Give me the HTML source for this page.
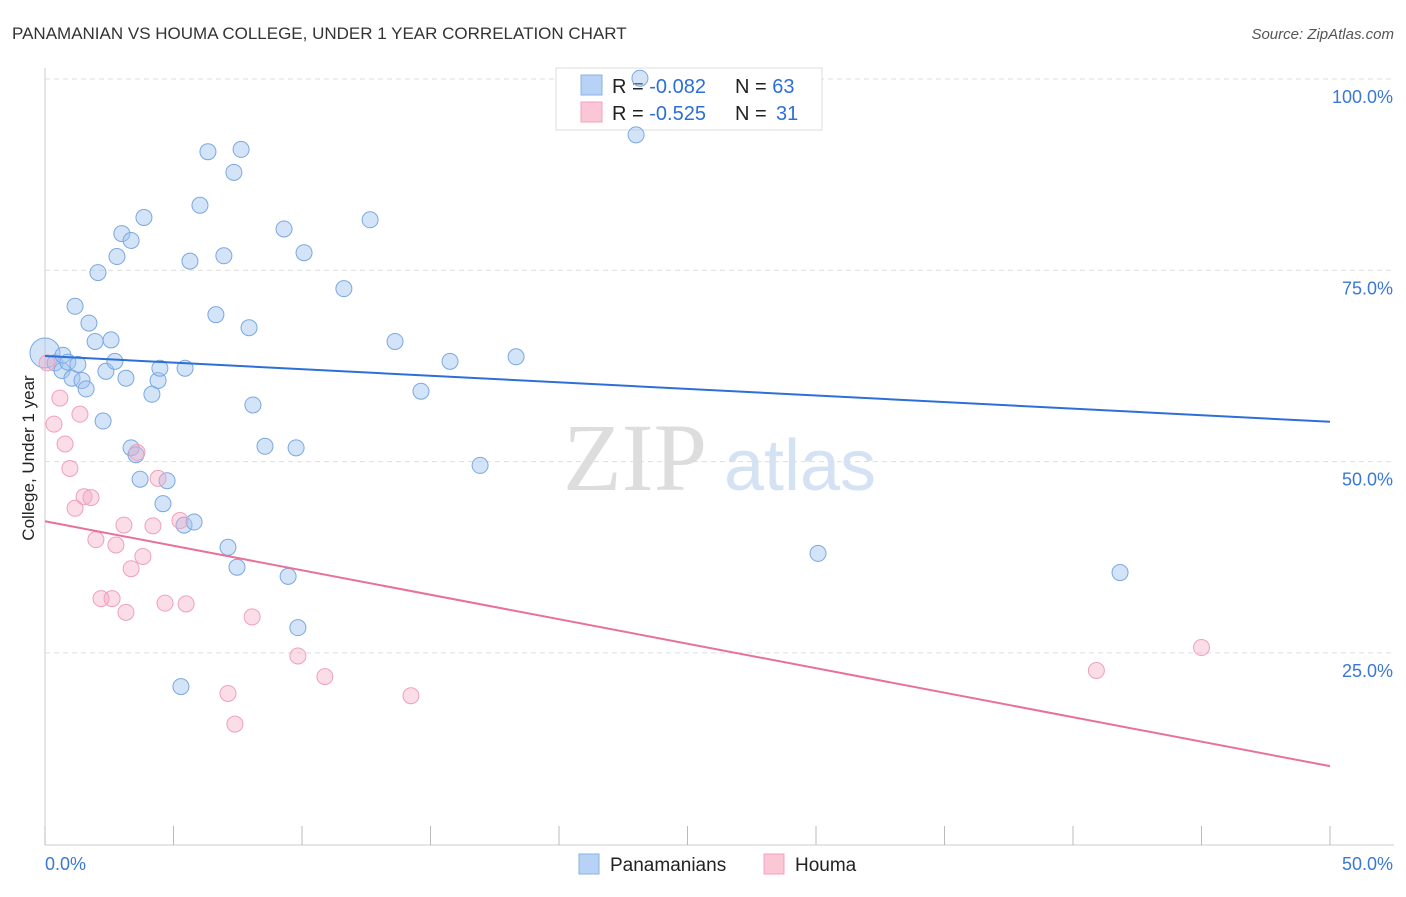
<!DOCTYPE html>
<html><head><meta charset="utf-8"><style>
body{margin:0;background:#fff;font-family:"Liberation Sans",sans-serif}
</style></head><body>
<svg id="c" width="1406" height="892" xmlns="http://www.w3.org/2000/svg" style="font-family:'Liberation Sans',sans-serif">
<text x="12" y="39" font-size="17" fill="#333">PANAMANIAN VS HOUMA COLLEGE, UNDER 1 YEAR CORRELATION CHART</text>
<text x="1394" y="39" font-size="15" fill="#555" font-style="italic" text-anchor="end">Source: ZipAtlas.com</text>
<text x="635" y="490" font-size="96" fill="#ddd" font-family="Liberation Serif,serif" text-anchor="middle">ZIP</text>
<text x="800" y="490" font-size="72" fill="#d4e2f4" text-anchor="middle">atlas</text>
<text transform="translate(34,458) rotate(-90)" font-size="17" fill="#222" text-anchor="middle">College, Under 1 year</text>
<g id="grid"></g>
<g>
<rect x="556" y="68" width="266" height="62" fill="#fff" stroke="#ddd"/>
<rect x="581" y="75" width="21" height="20" fill="#b7d2f5" stroke="#8ab2e6"/>
<rect x="581" y="102" width="21" height="20" fill="#fbc6d6" stroke="#f2a0bc"/>
<text x="612" y="93" font-size="20" fill="#222">R = <tspan fill="#2d6fd6">-0.082</tspan><tspan x="735">N = </tspan><tspan fill="#2d6fd6">63</tspan></text>
<text x="612" y="120" font-size="20" fill="#222">R = <tspan fill="#2d6fd6">-0.525</tspan><tspan x="735">N = </tspan><tspan fill="#2d6fd6" x="776">31</tspan></text>
</g>
<g id="pts"></g><g id="lines"></g>
<g>
<rect x="579" y="854" width="20" height="20" fill="#b7d2f5" stroke="#8ab2e6"/>
<text x="610" y="871" font-size="19" fill="#222">Panamanians</text>
<rect x="764" y="854" width="20" height="20" fill="#fbc6d6" stroke="#f2a0bc"/>
<text x="795" y="871" font-size="19" fill="#222">Houma</text>
</g>
</svg>
<script>
const yTicks=[25,50,75,100];
const yTickLabels=["25.0%","50.0%","75.0%","100.0%"];
const xTickLabels=["0.0%","50.0%"];
const blueX=[0,0.39,0.66,0.7,0.89,1.05,1.28,1.44,1.6,1.17,1.71,1.95,2.06,2.26,2.37,2.57,2.72,2.8,2.99,3.15,3.35,3.35,3.54,3.7,3.85,4.16,4.4,4.47,4.59,4.75,5.41,5.45,5.64,5.8,6.03,6.34,6.65,6.96,7.12,7.35,7.47,7.63,7.94,8.09,8.56,9.3,9.46,9.77,9.84,10.08,11.63,12.65,13.62,14.63,15.76,16.93,18.33,23.0,23.15,30.08,41.83,5.29];
const blueY=[64.2,62.9,61.9,63.9,63.0,60.9,62.7,60.6,59.5,70.3,68.1,65.7,74.7,55.3,61.8,65.9,63.1,76.8,79.8,60.9,78.9,51.8,50.9,47.7,81.9,58.8,60.6,62.2,44.5,47.5,41.7,62.2,76.2,42.1,83.5,90.5,69.2,76.9,38.8,87.8,36.2,90.8,67.5,57.4,52.0,80.4,35.0,51.8,28.3,77.3,72.6,81.6,65.7,59.2,63.1,49.5,63.7,92.7,100.1,38.0,35.5,20.6];
const pinkX=[0.08,0.35,0.58,0.78,0.97,1.17,1.36,1.52,1.79,1.98,2.18,2.61,2.76,3.07,3.15,3.35,3.58,3.81,4.2,4.4,4.67,5.25,5.49,7.12,7.39,8.06,9.84,10.89,14.24,40.91,45.0];
const pinkY=[62.9,54.9,58.3,52.3,49.1,43.9,56.2,45.4,45.3,39.8,32.1,32.1,39.1,41.7,30.3,36.0,51.2,37.6,41.6,47.8,31.5,42.3,31.4,19.7,15.7,29.7,24.6,21.9,19.4,22.7,25.7];
const lineFits=[[63.8,-0.172],[42.2,-0.64]];
const lineColors=["#2d6fd6","#e8719a"];
const NS="http://www.w3.org/2000/svg";
const X=v=>45+v/50*1285, Y=v=>79+(100-v)/25*191.3;
function mk(t,a,p){const e=document.createElementNS(NS,t);for(const k in a)e.setAttribute(k,a[k]);p.appendChild(e);return e;}
const g=document.getElementById('grid');
const ax=mk('line',{x1:45,y1:68,x2:45,y2:845,stroke:'#ccc'},g);


const bx=mk('line',{x1:45,y1:845,x2:1394,y2:845,stroke:'#ccc'},g);


for(let i=0;i<=10;i++){const t=mk('line',{x1:X(i*5),x2:X(i*5),y1:826,y2:845,stroke:'#bbb'},g);

}
yTicks.forEach((v,i)=>{const l=mk('line',{x1:45,x2:1394,y1:Y(v),y2:Y(v),stroke:'#ddd','stroke-dasharray':'5,4'},g);


const t=mk('text',{x:1393,y:Y(v)+24,'font-size':18,fill:'#3a78d6','text-anchor':'end'},g);t.textContent=yTickLabels[i];

});
[[0,'start',45],[50,'end',1393]].forEach((a,i)=>{const t=mk('text',{x:a[2],y:870,'font-size':18,fill:'#3a78d6','text-anchor':a[1]},g);t.textContent=xTickLabels[i];

});
const p=document.getElementById('pts');
blueX.forEach((x,i)=>{const c=mk('circle',{cx:X(x),cy:Y(blueY[i]),r:i==0?15:8,fill:'rgba(160,196,240,0.45)',stroke:'#7aa8e0','stroke-width':1},p);

});
pinkX.forEach((x,i)=>{const c=mk('circle',{cx:X(x),cy:Y(pinkY[i]),r:8,fill:'rgba(245,170,195,0.4)',stroke:'#f0a0bc','stroke-width':1},p);

});
const lg=document.getElementById('lines');
lineFits.forEach((f,i)=>{const l=mk('line',{x1:X(0),y1:Y(f[0]),x2:X(50),y2:Y(f[0]+f[1]*50),stroke:lineColors[i],'stroke-width':2},lg);

});
</script>
</body></html>
